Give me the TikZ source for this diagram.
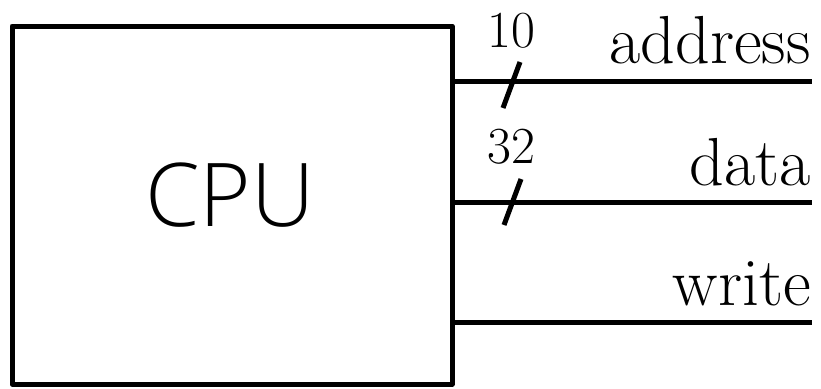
\documentclass[tikz,border=0pt]{standalone}
\usepackage{fontspec}
\newfontfamily\cpufont{Open Sans Light}
\begin{document}
\begin{tikzpicture}[x=1pt,y=-1pt,
  wire/.style={line width=5pt},
  lbl/.style={font=\fontsize{68}{70}\selectfont, inner sep=0pt, anchor=base east},
  num/.style={font=\fontsize{52}{54}\selectfont, inner sep=0pt, anchor=base}]
\useasboundingbox (0,0) rectangle (821,388);
\node[draw, line width=5pt, line join=round, minimum width=440pt, minimum height=358pt, inner sep=0pt] (cpu) at (232,205) {};
\node[font=\cpufont\fontsize{88}{90}\selectfont, inner sep=0pt] (cputext) at (230,195) {CPU};
\coordinate (aEnd) at (812,81);
\coordinate (dEnd) at (812,202);
\coordinate (wEnd) at (812,322);
\draw[wire] (cpu.east |- aEnd) -- (aEnd);
\draw[wire] (cpu.east |- dEnd) -- (dEnd);
\draw[wire] (cpu.east |- wEnd) -- (wEnd);
\coordinate (as1) at (520,62);
\coordinate (as2) at (503,108);
\coordinate (ds1) at (521,179);
\coordinate (ds2) at (504,225);
\draw[wire] (as1) -- (as2);
\draw[wire] (ds1) -- (ds2);
\node[num] (n10) at (511,47) {10};
\node[num] (n32) at (511,163) {32};
\node[lbl] (address) at (811,63) {address};
\node[lbl] (data) at (811,185) {data};
\node[lbl] (write) at (811,305) {write};
\end{tikzpicture}
\end{document}
